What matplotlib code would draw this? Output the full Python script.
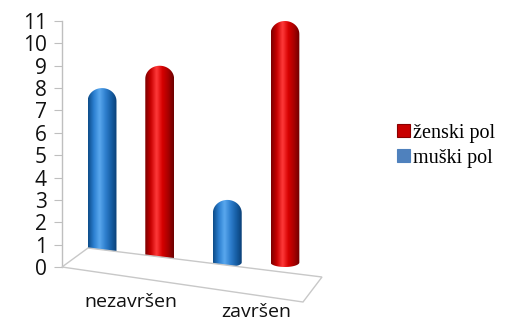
import numpy as np
import matplotlib
matplotlib.use("Agg")
import matplotlib.pyplot as plt
from matplotlib.path import Path
from matplotlib.patches import PathPatch, Polygon, Rectangle
from matplotlib.colors import LinearSegmentedColormap
import matplotlib.transforms as mtransforms
from matplotlib.legend_handler import HandlerBase

categories = ["nezavršen", "završen"]
series_names = ["muški pol", "ženski pol"]
muski = [8, 3]
zenski = [9, 11]
yticks = list(range(0, 12))

W, H, DPI = 513, 321, 100
fig = plt.figure(figsize=(W / DPI, H / DPI), dpi=DPI)
ax_l, ax_b, ax_r, ax_t = 62, 267, 320, 21
ax = fig.add_axes([ax_l / W, 1 - ax_b / H, (ax_r - ax_l) / W, (ax_b - ax_t) / H])
ax.set_xlim(-0.55, 1.51)
ax.set_ylim(0, 11)

# floor (perspective decoration)
floor_px = [(62, 267), (88, 248), (322, 277), (303, 302)]
floor = Polygon([(x / W, 1 - y / H) for x, y in floor_px], closed=True,
                transform=fig.transFigure, facecolor="white",
                edgecolor="#c8c8c8", lw=1.0, zorder=0)
fig.patches.append(floor)

blue_cmap = LinearSegmentedColormap.from_list(
    "b", ["#0b4a86", "#2b7fd0", "#5aa8ee", "#2f80cf", "#175fa6", "#0a3f75"])
red_cmap = LinearSegmentedColormap.from_list(
    "r", ["#7a0000", "#c80000", "#ff3a3a", "#d60000", "#a80000", "#6a0000"])

x = np.arange(len(categories))
bw = 0.23
off = 0.23
bars_m = ax.bar(x - off, muski, bw, color="none", edgecolor="none")
bars_z = ax.bar(x + off, zenski, bw, color="none", edgecolor="none")

fig.canvas.draw()
px_per_x = ax.transData.transform((1, 0))[0] - ax.transData.transform((0, 0))[0]
px_per_y = ax.transData.transform((0, 1))[1] - ax.transData.transform((0, 0))[1]


def cyl_path(x0, w, h):
    r = w / 2.0
    cap = (r * px_per_x) / px_per_y * 0.9
    bcap = cap * 0.35
    cx = x0 + r
    t = np.linspace(0, np.pi, 30)
    top = [(cx + r * np.cos(a), h - cap + cap * np.sin(a)) for a in t]
    bot = [(cx - r * np.cos(a), bcap - bcap * np.sin(a)) for a in t]
    pts = [(x0 + w, bcap)] + top + [(x0, bcap)] + bot[1:] + [(x0 + w, bcap)]
    codes = [Path.MOVETO] + [Path.LINETO] * (len(pts) - 2) + [Path.CLOSEPOLY]
    return Path(pts, codes)


grad = np.linspace(0, 1, 256).reshape(1, -1)
for bars, cmap in [(bars_m, blue_cmap), (bars_z, red_cmap)]:
    for b in bars:
        x0, w, h = b.get_x(), b.get_width(), b.get_height()
        p = cyl_path(x0, w, h)
        patch = PathPatch(p, facecolor="none", edgecolor="none")
        ax.add_patch(patch)
        im = ax.imshow(grad, cmap=cmap, aspect="auto",
                       extent=(x0, x0 + w, -0.5, h + 0.5), zorder=3,
                       interpolation="bicubic")
        im.set_clip_path(patch)

ax.set_xlim(-0.55, 1.51)
ax.set_ylim(0, 11)

for s in ["top", "right", "bottom"]:
    ax.spines[s].set_visible(False)
ax.spines["left"].set_color("#bfbfbf")
ax.spines["left"].set_linewidth(1.0)

ax.set_yticks(yticks)
ax.set_yticklabels([str(v) for v in yticks], fontsize=15, family="Open Sans")
ax.tick_params(axis="y", length=6, color="#bfbfbf", pad=5, labelcolor="#111111")

ax.set_xticks(x)
ax.set_xticklabels(categories, fontsize=14, family="Open Sans", color="#111111")
ax.tick_params(axis="x", length=0, pad=19)
offsets = [0, -10]
for lbl, dy in zip(ax.get_xticklabels(), offsets):
    lbl.set_transform(lbl.get_transform() +
                      mtransforms.ScaledTranslation(0, dy / DPI, fig.dpi_scale_trans))


class GradHandler(HandlerBase):
    def create_artists(self, legend, orig_handle, xdescent, ydescent,
                       width, height, fontsize, trans):
        s = min(width, height) * 1.0
        x0 = xdescent + width - s
        r = Rectangle((x0, -ydescent + (height - s) / 2), s, s,
                      facecolor=orig_handle.get_facecolor(),
                      edgecolor=orig_handle.get_edgecolor(), lw=0.8,
                      transform=trans)
        return [r]


h_z = Rectangle((0, 0), 1, 1, facecolor="#c80000", edgecolor="#8a0000")
h_m = Rectangle((0, 0), 1, 1, facecolor="#4f81bd", edgecolor="#4f81bd")
leg = fig.legend([h_z, h_m], [series_names[1], series_names[0]],
                 loc="center left", bbox_to_anchor=(389 / W, 1 - 146 / H),
                 frameon=False, prop={"family": "Liberation Serif", "size": 14.5},
                 handlelength=0.65, handleheight=0.65, handletextpad=0.15,
                 labelspacing=0.3, borderaxespad=0,
                 handler_map={h_z: GradHandler(), h_m: GradHandler()})

fig.savefig("out.png", dpi=DPI)
